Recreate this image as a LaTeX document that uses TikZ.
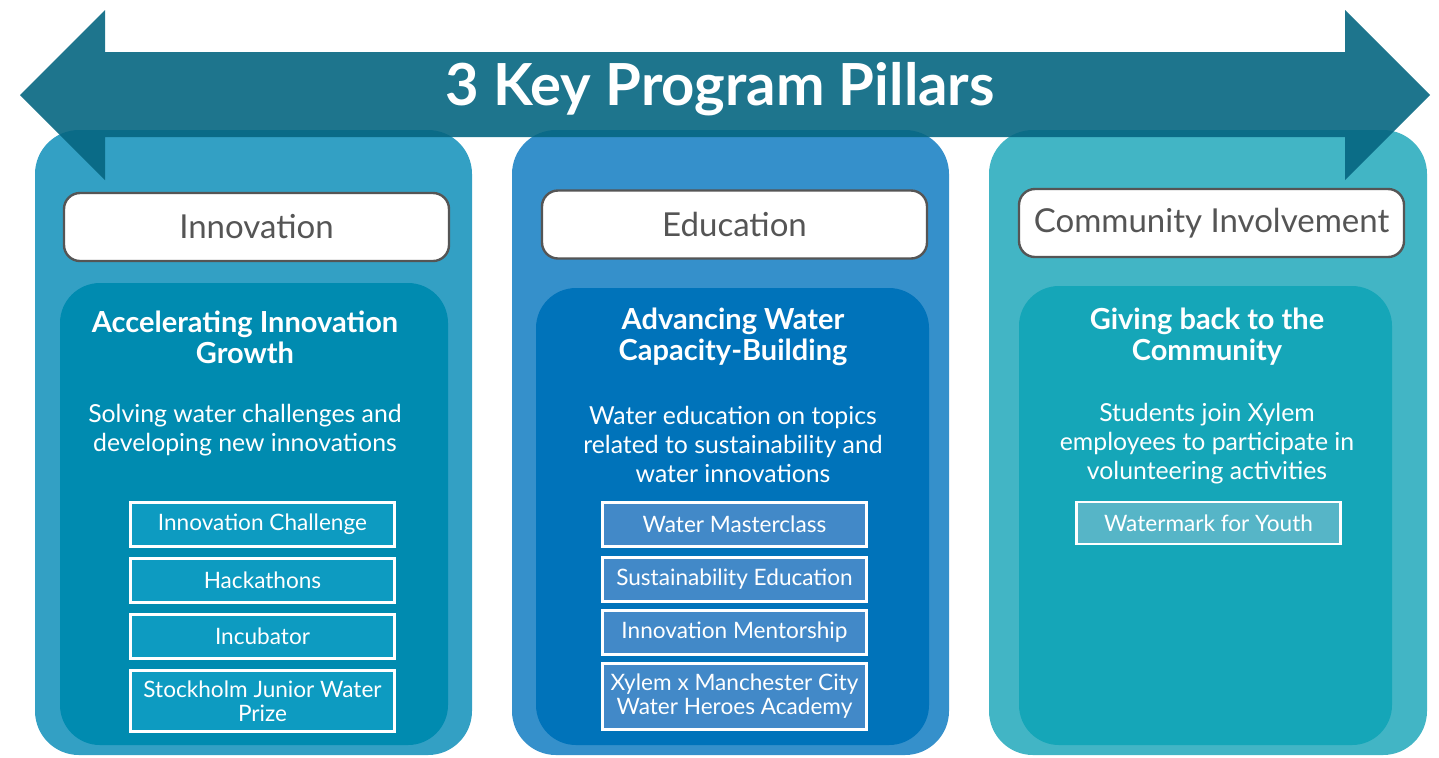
\documentclass[tikz,border=0pt]{standalone}
\usepackage{fontspec}
\setmainfont{Lato}
\usetikzlibrary{positioning}
\definecolor{arrowblue}{HTML}{066681}
\definecolor{innocol}{HTML}{33A0C4}
\definecolor{educol}{HTML}{3590CB}
\definecolor{commcol}{HTML}{42B5C5}
\definecolor{innoin}{HTML}{008BB0}
\definecolor{eduin}{HTML}{0073BA}
\definecolor{commin}{HTML}{15A6B8}
\definecolor{innoitem}{HTML}{0D9BC1}
\definecolor{eduitem}{HTML}{4289C8}
\definecolor{commitem}{HTML}{56B5C7}
\definecolor{headgray}{HTML}{555555}
\tikzstyle{pillar}=[rounded corners=22pt,minimum height=312.5pt,inner sep=0pt]
\tikzstyle{header}=[draw=headgray,line width=1.2pt,fill=white,rounded corners=8pt,
  minimum width=192.5pt,minimum height=34pt,text=headgray,font=\fontsize{16.5}{19}\selectfont]
\tikzstyle{inner}=[rounded corners=20pt,inner sep=0pt]
\tikzstyle{title}=[text=white,align=center,font=\fontsize{14.5}{15.5}\bfseries\selectfont]
\tikzstyle{body}=[text=white,align=center,font=\fontsize{12.4}{14.5}\selectfont]
\tikzstyle{item}=[draw=white,line width=1.2pt,text=white,align=center,minimum width=132pt,
  minimum height=22pt,inner sep=1pt,font=\fontsize{11.3}{12}\selectfont]

\begin{document}
\begin{tikzpicture}[x=0.5pt,y=-0.5pt,node distance=4.8pt]
  \useasboundingbox (0,0) rectangle (1439,757);

  % the three pillars
  \node[pillar,fill=innocol,minimum width=218.5pt] (inno) at (253.5,442.5) {};
  \node[pillar,fill=educol,minimum width=218.5pt]  (edu)  at (730.5,442.5) {};
  \node[pillar,fill=commcol,minimum width=219pt]   (comm) at (1208,442.5) {};

  % double arrow over the top
  \fill[arrowblue,fill opacity=.9] (20,95) -- (105,10) -- (105,52) -- (1345,52)
    -- (1345,10) -- (1430,95) -- (1345,180) -- (1345,137) -- (105,137)
    -- (105,180) -- cycle;
  \node[text=white,font=\fontsize{29}{34}\bfseries\selectfont] (head) at (720,89)
    {3 Key Program Pillars};

  % headers
  \node[header] (innoh) at (256.5,227) {Innovation};
  \node[header] (eduh)  at (734.5,224.5) {Education};
  \node[header] (commh) at (1211.5,223) {Community Involvement};

  % inner boxes
  \node[inner,fill=innoin,minimum width=194pt,minimum height=231pt]   (innoi) at (254,514) {};
  \node[inner,fill=eduin,minimum width=196.5pt,minimum height=228.5pt] (edui) at (732.5,516.5) {};
  \node[inner,fill=commin,minimum width=186.5pt,minimum height=229.5pt] (commi) at (1205.5,515.5) {};

  \node[title] (innot) at (245,337) {Accelerating Innovation\\Growth};
  \node[title] (edut)  at (733,337) {Advancing Water\\Capacity-Building};
  \node[title] (commt) at (1207,337) {Giving back to the\\Community};

  \node[body] (innob) at (245,430) {Solving water challenges and\\developing new innovations};
  \node[body] (edub)  at (733,444) {Water education on topics\\related to sustainability and\\water innovations};
  \node[body] (commb) at (1207,444) {Students join Xylem\\employees to participate in\\volunteering activities};

  % innovation items
  \node[item,fill=innoitem] (ic) at (262.5,524.5) {Innovation Challenge};
  \node[item,fill=innoitem,below=of ic] (hack) {Hackathons};
  \node[item,fill=innoitem,below=of hack] (incub) {Incubator};
  \node[item,fill=innoitem,below=of incub,minimum height=30.5pt] (sjwp)
    {Stockholm Junior Water\\Prize};

  % education items
  \node[item,fill=eduitem] (wm) at (734.5,524.5) {Water Masterclass};
  \node[item,fill=eduitem,below=4.3pt of wm] (sust) {Sustainability Education};
  \node[item,fill=eduitem,below=3.3pt of sust] (ment) {Innovation Mentorship};
  \node[item,fill=eduitem,below=3.3pt of ment,minimum height=33pt] (mcity)
    {Xylem x Manchester City\\Water Heroes Academy};

  % community item
  \node[item,fill=commitem,minimum height=21pt] (wfy) at (1208.5,523) {Watermark for Youth};
\end{tikzpicture}
\end{document}
